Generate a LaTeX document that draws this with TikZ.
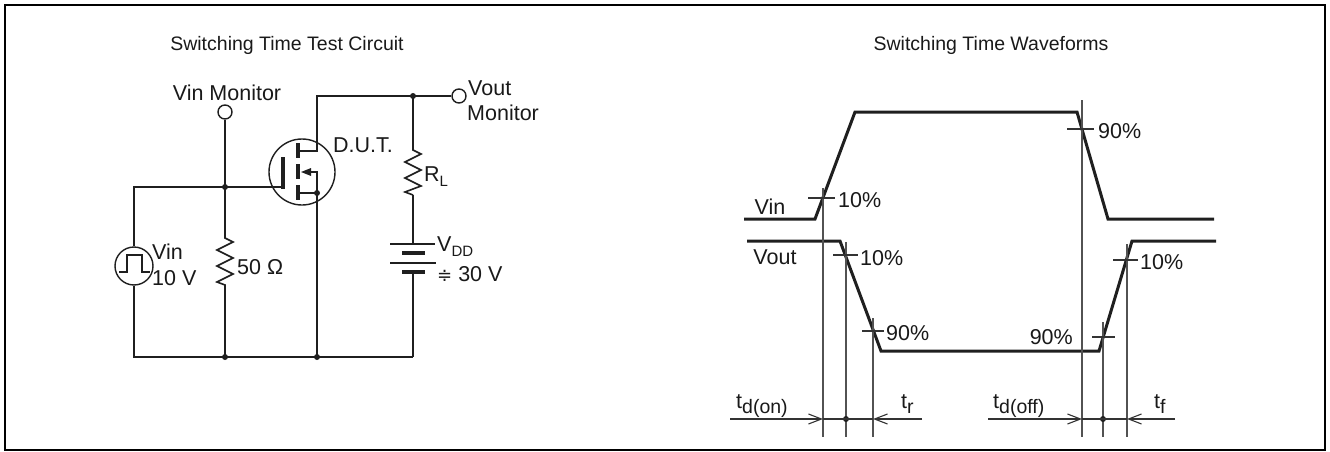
\documentclass[tikz,border=0pt]{standalone}
\usepackage{fontspec}
\setmainfont{Liberation Sans}
\newfontfamily\dejavu{DejaVu Sans}
\usetikzlibrary{arrows.meta}
\newcommand\lsub[1]{\raisebox{-5pt}{\fontsize{15}{15}\selectfont #1}}
\newcommand\tsub[1]{\raisebox{-5pt}{\fontsize{19.5}{20}\selectfont #1}}
\begin{document}
\begin{tikzpicture}[x=1pt,y=-1pt,
  wire/.style={line width=1.6pt, draw=black!88},
  thickbar/.style={line width=4pt, draw=black!88},
  wave/.style={line width=3pt, draw=black!88, line join=miter},
  guide/.style={line width=1.3pt, draw=black!68},
  tick/.style={line width=1.3pt, draw=black!80},
  term/.style={circle, draw=black!88, line width=1.4pt, minimum size=14pt, inner sep=0pt},
  lbl/.style={font=\fontsize{21.5}{23}\selectfont, inner sep=0pt, text=black!90},
  title/.style={font=\fontsize{19.5}{22}\selectfont, inner sep=0pt, text=black!90},
  dotc/.style={circle, fill=black!88, minimum size=6pt, inner sep=0pt},
  tarrow/.style={line width=1.3pt, draw=black!80, -{Straight Barb[length=13pt,width=10pt,line width=1.1pt]}}]
\useasboundingbox (0,0) rectangle (1330,452);
\draw[line width=2.2pt] (5,5) rectangle (1325,450);

% titles
\node[title] (t1) at (287,45) {Switching Time Test Circuit};
\node[title] (t2) at (991,45) {Switching Time Waveforms};

% ---------------- circuit ----------------
\node[term] (vm) at (225,112) {};
\node[lbl] (vmlab) at (227,93) {Vin Monitor};
\node[dotc] (jg) at (225,187) {};
\coordinate (jl) at (134,187);
\node[circle, draw=black!88, line width=1.4pt, minimum size=38pt, inner sep=0pt] (src) at (134,266) {};
\coordinate (bl) at (134,357);
\node[dotc] (b1) at (225,357) {};
\node[dotc] (b2) at (317,357) {};
\coordinate (br) at (413,357);

\draw[wire] (vm.south) -- (jg.center);
\draw[wire] (jg.center) -- (jl) -- (src.north);
\draw[wire] (src.south) -- (bl) -- (br);
% pulse symbol
\draw[line width=1.3pt, draw=black!88] (119,272) -- (127,272) -- (127,255) -- (142,255) -- (142,272) -- (150,272);
\node[lbl, anchor=west] (vinlab) at (152,252) {Vin};
\node[lbl, anchor=west] (tenv) at (152,278) {10 V};

% 50 ohm resistor
\coordinate (r1t) at (225,238);
\coordinate (r1b) at (225,285);
\draw[wire] (jg.center) -- (r1t) -- ++(8,4) -- ++(-16,8) -- ++(16,8) -- ++(-16,8) -- ++(16,8) -- ++(-16,8) -- (r1b) -- (b1.center);
\node[lbl, anchor=west] (r1lab) at (237,267) {50 Ω};

% MOSFET
\node[circle, draw=black!88, line width=1.4pt, minimum size=66pt, inner sep=0pt] (dut) at (302,172) {};
\coordinate (gate) at (283,187);
\draw[wire] (jg.center) -- (gate);
\draw[thickbar] (283,157) -- (283,189);
\draw[thickbar] (298,143) -- (298,158);
\draw[thickbar] (298,164) -- (298,179);
\draw[thickbar] (298,185) -- (298,200);
\coordinate (dr) at (317,151);
\coordinate (dtop) at (317,96);
\node[dotc] (jd) at (413,96) {};
\node[term] (vo) at (459,96) {};
\draw[wire] (298,151) -- (dr) -- (dtop) -- (jd.center) -- (vo.west);
\node[dotc] (js) at (317,193) {};
\draw[wire] (298,193) -- (js.center);
\draw[wire] (310,172) -- (317,172) -- (js.center) -- (b2.center);
\fill[black!88] (301,172) -- (311,168) -- (311,176) -- cycle;
\node[lbl, anchor=west] (dutlab) at (333,145) {D.U.T.};
\node[lbl, anchor=west] (volab1) at (468,88) {Vout};
\node[lbl, anchor=west] (volab2) at (467,113) {Monitor};

% R_L
\coordinate (r2t) at (413,150);
\coordinate (r2b) at (413,195);
\draw[wire] (jd.center) -- (r2t) -- ++(8,4) -- ++(-16,8) -- ++(16,8) -- ++(-16,8) -- ++(16,8) -- ++(-16,6) -- (r2b);
\node[lbl, anchor=west] (rllab) at (424,177) {R\lsub{L}};

% battery
\coordinate (bt) at (413,244);
\coordinate (bb) at (413,272);
\draw[wire] (r2b) -- (bt);
\draw[wire] (390,244) -- (435,244);
\draw[thickbar] (402,253) -- (425,253);
\draw[wire] (390,263) -- (436,263);
\draw[thickbar] (402,272) -- (425,272);
\draw[wire] (bb) -- (br);
\node[lbl, anchor=west] (vddlab) at (437,247) {V\lsub{DD}};
\node[lbl, anchor=west] (vddval) at (437,274) {{\dejavu\fontsize{18}{20}\selectfont ≑} 30 V};

% ---------------- waveforms ----------------
\draw[wave] (744,219) -- (815,219) -- (855,112) -- (1077,112) -- (1108,219) -- (1214,219);
\draw[wave] (747,241) -- (840,241) -- (881,351) -- (1099,351) -- (1132,241) -- (1216,241);
\node[lbl] (winlab) at (770,207) {Vin};
\node[lbl] (woutlab) at (775,257) {Vout};

% guide lines
\coordinate (g1t) at (823,188); \coordinate (g1b) at (823,437);
\coordinate (g2t) at (846,242); \coordinate (g2b) at (846,437);
\coordinate (g3t) at (873,318); \coordinate (g3b) at (873,437);
\coordinate (g4t) at (1082,100); \coordinate (g4b) at (1082,437);
\coordinate (g5t) at (1103,322); \coordinate (g5b) at (1103,437);
\coordinate (g6t) at (1127,244); \coordinate (g6b) at (1127,437);
\foreach \g in {1,...,6} {\draw[guide] (g\g t) -- (g\g b);}

% ticks
\draw[tick] (808,198) -- (835,198);
\draw[tick] (833,255) -- (858,255);
\draw[tick] (862,331) -- (884,331);
\draw[tick] (1067,129) -- (1094,129);
\draw[tick] (1092,337) -- (1115,337);
\draw[tick] (1113,260) -- (1138,260);
\node[lbl, anchor=west] (p1) at (838,200) {10\%};
\node[lbl, anchor=west] (p2) at (860,258) {10\%};
\node[lbl, anchor=west] (p3) at (886,333) {90\%};
\node[lbl, anchor=west] (p4) at (1098,131) {90\%};
\node[lbl, anchor=east] (p5) at (1073,337) {90\%};
\node[lbl, anchor=west] (p6) at (1140,262) {10\%};

% time arrows
\coordinate (a1) at (730,419); \coordinate (a1e) at (823,419);
\node[dotc] (d1) at (846,419) {};
\coordinate (a2) at (922,419); \coordinate (a2e) at (873,419);
\coordinate (a3) at (988,419); \coordinate (a3e) at (1082,419);
\node[dotc] (d2) at (1103,419) {};
\coordinate (a4) at (1175,419); \coordinate (a4e) at (1127,419);
\draw[tarrow] (a1) -- (a1e);
\draw[tarrow] (a2) -- (a2e);
\draw[tarrow] (a3) -- (a3e);
\draw[tarrow] (a4) -- (a4e);
\draw[line width=1.3pt, draw=black!80] (a1e) -- (a2e);
\draw[line width=1.3pt, draw=black!80] (a3e) -- (a4e);
\node[lbl, anchor=base west] (tdon) at (736,408) {t\tsub{d(on)}};
\node[lbl, anchor=base west] (tr) at (901,408) {t\tsub{r}};
\node[lbl, anchor=base west] (tdoff) at (993,408) {t\tsub{d(off)}};
\node[lbl, anchor=base west] (tf) at (1154,408) {t\tsub{f}};
\end{tikzpicture}
\end{document}
